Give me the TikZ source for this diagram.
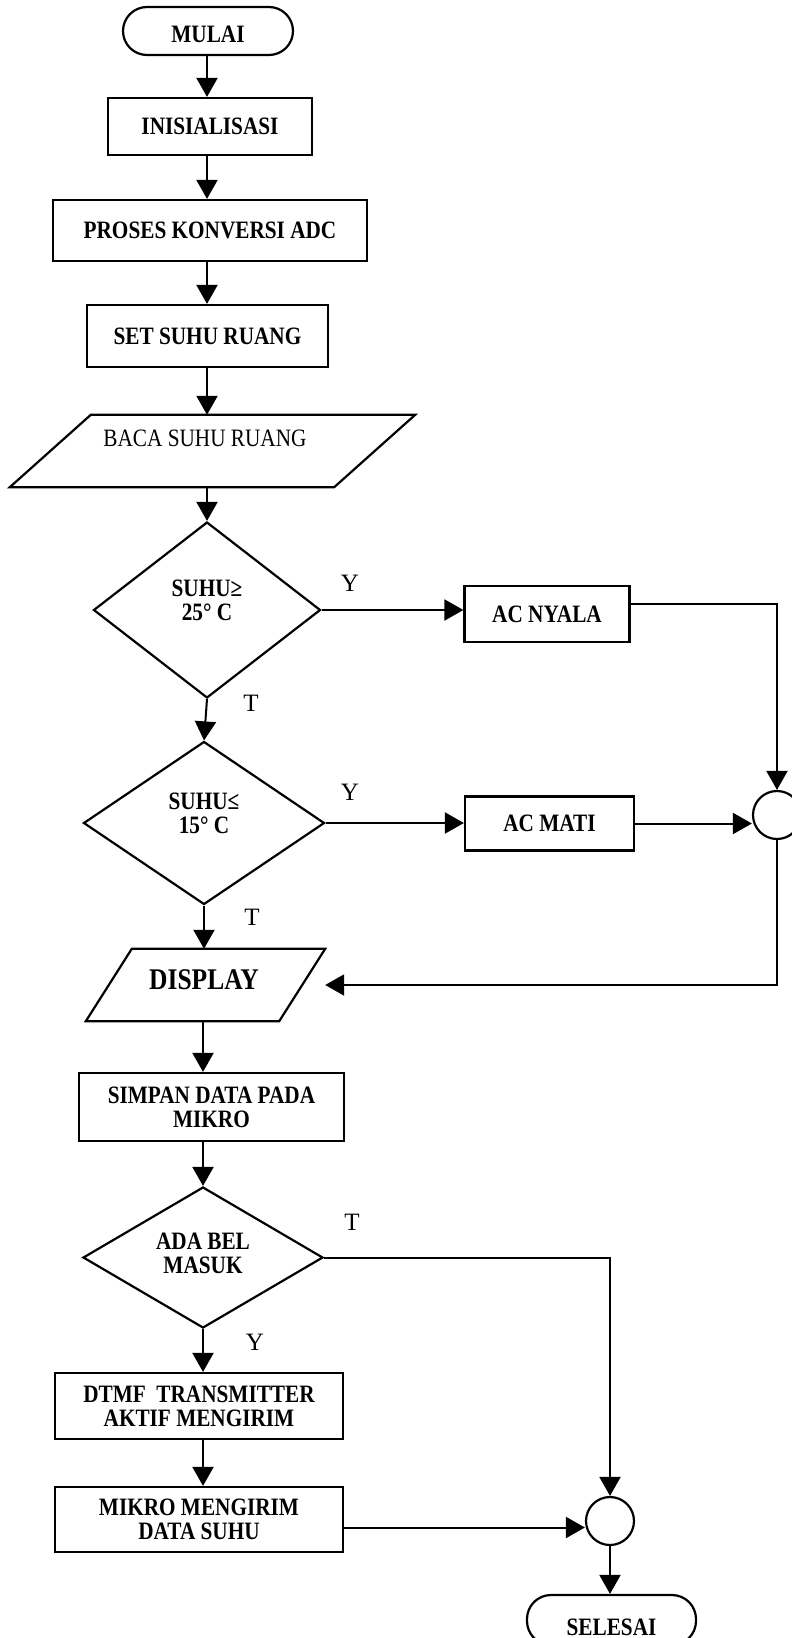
\documentclass[tikz,border=0pt]{standalone}
\usepackage{fontspec}
\setmainfont{Liberation Serif}[FakeStretch=0.85]
\newfontfamily\labfont{Liberation Serif}
\usetikzlibrary{arrows.meta,shapes.geometric,calc}
\newcommand\txtsz{\fontsize{25pt}{24pt}\selectfont}
\begin{document}
\begin{tikzpicture}[x=1pt,y=-1pt,
  outl/.style={draw, line width=2.2pt},
  box/.style={outl, rectangle, inner sep=0pt, font=\txtsz\bfseries, align=center},
  term/.style={box, rounded corners=24pt},
  dia/.style={outl, diamond, inner sep=0pt},
  dtext/.style={font=\txtsz\bfseries, align=center},
  junc/.style={outl, circle, inner sep=0pt, minimum size=48pt},
  yt/.style={font=\labfont\fontsize{25pt}{25pt}\selectfont, inner sep=0pt},
  arr/.style={draw, line width=2pt, -{Triangle[length=19pt,width=21pt]}},
  ln/.style={draw, line width=2pt}
]
\fill[white] (0,0) rectangle (792,1638);
\useasboundingbox (0,0) rectangle (792,1638);

% column coordinates
\coordinate (colA) at (207,0);
\coordinate (colB) at (203,0);

% nodes
\node[term, minimum width=170pt, minimum height=48pt,
  label={[dtext, yshift=-3pt]center:MULAI}] (mulai) at (208,31) {};
\node[box, minimum width=204pt, minimum height=57pt] (ini) at (210,126.5) {INISIALISASI};
\node[box, minimum width=314pt, minimum height=61pt] (proses) at (210,230.5) {PROSES KONVERSI ADC};
\node[box, minimum width=241pt, minimum height=62pt] (set) at (207.5,336) {SET SUHU RUANG};

\node[inner sep=0pt, minimum width=405pt, minimum height=72pt] (baca) at (212.5,451) {};
\draw[outl] ($(baca.north west)+(81,0)$) -- (baca.north east) -- ($(baca.south east)+(-81,0)$) -- (baca.south west) -- cycle;
\node[font=\txtsz, inner sep=0pt] (bacatxt) at (205,438) {BACA SUHU RUANG};

\node[dia, minimum width=227pt, minimum height=176pt,
  label={[dtext, yshift=10pt]center:SUHU≥\\25° C}] (d1) at (207,610) {};
\node[box, minimum width=165pt, minimum height=56pt] (acnyala) at (547,614) {AC NYALA};
\node[junc] (c1) at (777,815) {};

\node[dia, minimum width=241pt, minimum height=163pt,
  label={[dtext, yshift=9.5pt]center:SUHU≤\\15° C}] (d2) at (204,823) {};
\node[box, minimum width=169pt, minimum height=54pt] (acmati) at (549.5,823.5) {AC MATI};

\node[inner sep=0pt, minimum width=239pt, minimum height=72pt] (display) at (205.5,985) {};
\draw[outl] ($(display.north west)+(46,0)$) -- (display.north east) -- ($(display.south east)+(-46,0)$) -- (display.south west) -- cycle;
\node[font=\fontsize{30pt}{30pt}\selectfont\bfseries, inner sep=0pt] (disptxt) at (204,980) {DISPLAY};

\node[box, minimum width=265pt, minimum height=68pt] (simpan) at (211.5,1107) {SIMPAN DATA PADA\\MIKRO};
\node[dia, minimum width=240pt, minimum height=141pt,
  label={[dtext, yshift=4pt]center:ADA BEL\\MASUK}] (d3) at (203,1257.5) {};
\node[box, minimum width=288pt, minimum height=66pt] (dtmf) at (199,1406) {DTMF\ \ TRANSMITTER\\AKTIF MENGIRIM};
\node[box, minimum width=288pt, minimum height=65pt] (mikro) at (199,1519.5) {MIKRO MENGIRIM\\DATA SUHU};
\node[junc] (c2) at (610,1521) {};
\node[term, minimum width=169pt, minimum height=50pt,
  label={[dtext, yshift=-7pt]center:SELESAI}] (selesai) at (611.5,1620) {};

% Y / T labels
\node[yt] (y1) at (350,583) {Y};
\node[yt] (t1) at (251,703) {T};
\node[yt] (y2) at (350,792) {Y};
\node[yt] (t2) at (252,917) {T};
\node[yt] (t3) at (352,1222) {T};
\node[yt] (y3) at (255,1342) {Y};

% connectors
\draw[arr] (mulai.south -| colA) -- (ini.north -| colA);
\draw[arr] (ini.south -| colA) -- (proses.north -| colA);
\draw[arr] (proses.south -| colA) -- (set.north -| colA);
\draw[arr] (set.south -| colA) -- (baca.north -| colA);
\draw[arr] (baca.south -| colA) -- (d1.north);
\draw[arr] (d1.east) -- (d1.east -| acnyala.west);
\draw[arr] ([yshift=10pt]acnyala.east) -| (c1.north);
\draw[arr] (d1.south) -- (d2.north);
\draw[arr] (d2.east) -- (d2.east -| acmati.west);
\draw[arr] (acmati.east) -- (acmati.east -| c1.west);
\draw[arr] (c1.south) |- (display.east);
\draw[arr] (d2.south) -- (display.north -| d2.south);
\draw[arr] (display.south -| colB) -- (simpan.north -| colB);
\draw[arr] (simpan.south -| colB) -- (d3.north);
\draw[arr] (d3.east) -| (c2.north);
\draw[arr] (d3.south) -- (dtmf.north -| d3.south);
\draw[arr] (dtmf.south -| colB) -- (mikro.north -| colB);
\draw[arr] ([yshift=-8pt]mikro.east) -- ([yshift=-8pt]mikro.east -| c2.west);
\draw[arr] (c2.south) -- (selesai.north -| c2.south);
\end{tikzpicture}
\end{document}
